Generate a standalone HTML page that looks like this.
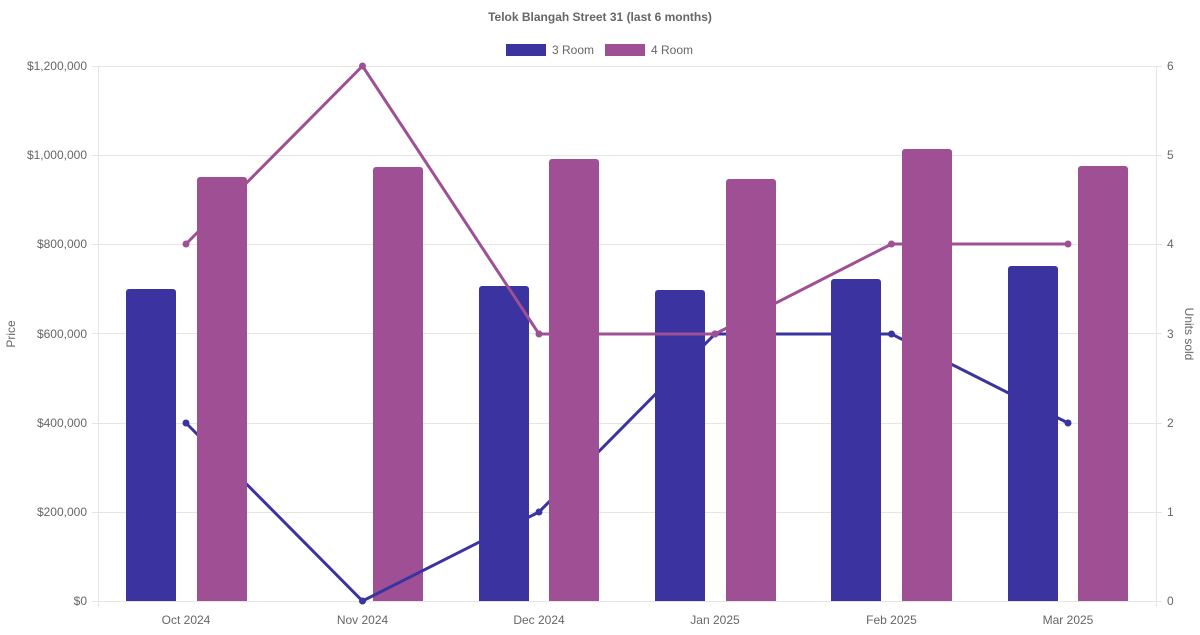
<!DOCTYPE html>
<html><head><meta charset="utf-8"><style>
body{margin:0;background:#fff;}
svg text{font-family:"Liberation Sans",sans-serif;}
</style></head><body>
<svg width="1200" height="630" xmlns="http://www.w3.org/2000/svg">
<rect width="1200" height="630" fill="#fff"/>
<text x="600" y="21" text-anchor="middle" font-size="12" font-weight="bold" fill="#666">Telok Blangah Street 31 (last 6 months)</text>
<rect x="506" y="44" width="40" height="12" fill="#3a33a0"/>
<text x="552" y="54" font-size="12" fill="#666">3 Room</text>
<rect x="605" y="44" width="40" height="12" fill="#9f5094"/>
<text x="651" y="54" font-size="12" fill="#666">4 Room</text>
<g stroke="#e5e5e5" stroke-width="1">
<line x1="92" y1="66.5" x2="1162" y2="66.5"/>
<line x1="92" y1="155.5" x2="1162" y2="155.5"/>
<line x1="92" y1="244.5" x2="1162" y2="244.5"/>
<line x1="92" y1="333.5" x2="1162" y2="333.5"/>
<line x1="92" y1="423.5" x2="1162" y2="423.5"/>
<line x1="92" y1="512.5" x2="1162" y2="512.5"/>
<line x1="92" y1="601.5" x2="1162" y2="601.5"/>
<line x1="98.5" y1="66" x2="98.5" y2="607"/>
<line x1="1156.5" y1="66" x2="1156.5" y2="607"/>
</g>
<g font-size="12" fill="#666" text-anchor="end">
<text x="87" y="70">$1,200,000</text>
<text x="87" y="159">$1,000,000</text>
<text x="87" y="248">$800,000</text>
<text x="87" y="338">$600,000</text>
<text x="87" y="427">$400,000</text>
<text x="87" y="516">$200,000</text>
<text x="87" y="605">$0</text>
</g>
<g font-size="12" fill="#666">
<text x="1167" y="70">6</text><text x="1167" y="159">5</text><text x="1167" y="248">4</text>
<text x="1167" y="338">3</text><text x="1167" y="427">2</text><text x="1167" y="516">1</text><text x="1167" y="605">0</text>
</g>
<g font-size="12" fill="#666" text-anchor="middle">
<text x="186" y="624">Oct 2024</text><text x="362.5" y="624">Nov 2024</text><text x="539" y="624">Dec 2024</text>
<text x="715" y="624">Jan 2025</text><text x="891.5" y="624">Feb 2025</text><text x="1068" y="624">Mar 2025</text>
</g>
<text transform="translate(15,334) rotate(-90)" text-anchor="middle" font-size="12" fill="#666">Price</text>
<text transform="translate(1185,334) rotate(90)" text-anchor="middle" font-size="12" fill="#666">Units sold</text>

<path fill="#9f5094" d="M373,601V170a3,3 0 0 1 3,-3h44a3,3 0 0 1 3,3V601Z"/>

<polyline points="186,423 362.5,601 539,512 715,334 891.5,334 1068,423" fill="none" stroke="#3a33a0" stroke-width="3"/>
<g fill="#3a33a0">
<circle cx="186" cy="423" r="3.5"/><circle cx="362.5" cy="601" r="3.5"/><circle cx="539" cy="512" r="3.5"/>
<circle cx="715" cy="334" r="3.5"/><circle cx="891.5" cy="334" r="3.5"/><circle cx="1068" cy="423" r="3.5"/>
</g>
<g fill="#3a33a0">
<path d="M126,601V292a3,3 0 0 1 3,-3h44a3,3 0 0 1 3,3V601Z"/>
<path d="M479,601V289a3,3 0 0 1 3,-3h44a3,3 0 0 1 3,3V601Z"/>
<path d="M655,601V293a3,3 0 0 1 3,-3h44a3,3 0 0 1 3,3V601Z"/>
<path d="M831,601V282a3,3 0 0 1 3,-3h44a3,3 0 0 1 3,3V601Z"/>
<path d="M1008,601V269a3,3 0 0 1 3,-3h44a3,3 0 0 1 3,3V601Z"/>
</g>
<polyline points="186,244 362.5,66 539,334 715,334 891.5,244 1068,244" fill="none" stroke="#9f5094" stroke-width="3"/>
<g fill="#9f5094">
<circle cx="186" cy="244" r="3.5"/><circle cx="362.5" cy="66" r="3.5"/><circle cx="539" cy="334" r="3.5"/>
<circle cx="715" cy="334" r="3.5"/><circle cx="891.5" cy="244" r="3.5"/><circle cx="1068" cy="244" r="3.5"/>
</g>
<g fill="#9f5094">
<path d="M197,601V180a3,3 0 0 1 3,-3h44a3,3 0 0 1 3,3V601Z"/>
<path d="M549,601V162a3,3 0 0 1 3,-3h44a3,3 0 0 1 3,3V601Z"/>
<path d="M726,601V182a3,3 0 0 1 3,-3h44a3,3 0 0 1 3,3V601Z"/>
<path d="M902,601V152a3,3 0 0 1 3,-3h44a3,3 0 0 1 3,3V601Z"/>
<path d="M1078,601V169a3,3 0 0 1 3,-3h44a3,3 0 0 1 3,3V601Z"/>
</g>
</svg>
</body></html>
